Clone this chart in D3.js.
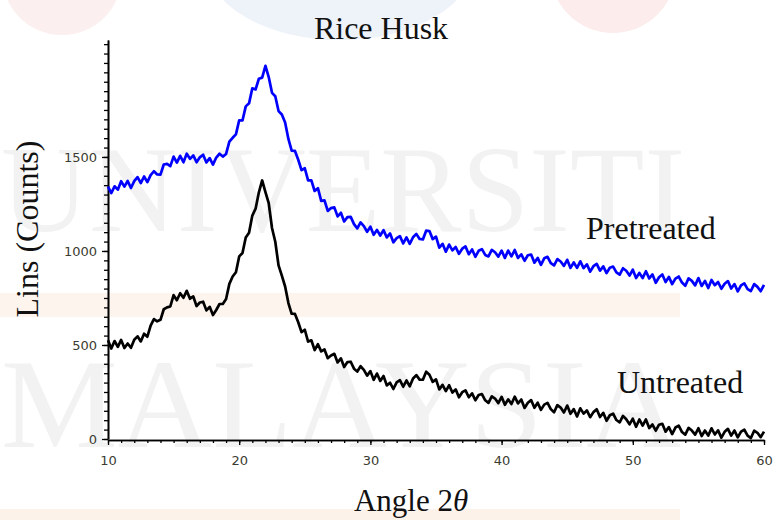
<!DOCTYPE html>
<html><head><meta charset="utf-8">
<script src="https://cdn.jsdelivr.net/npm/d3@7"></script>
<style>html,body{margin:0;padding:0;background:#fff;} svg{display:block;}</style>
</head><body>
<svg id="c" width="776" height="520"></svg>
<script>
// ---------- data ----------
const chartTitle = "Rice Husk";
const yAxisTitle = "Lins (Counts)";
const xAxisTitle = "Angle 2";
const xAxisSymbol = "θ";
const seriesNames = ["Pretreated", "Untreated"];
const xTickLabels = [10, 20, 30, 40, 50, 60];
const yTickLabels = [0, 500, 1000, 1500];
const xMinorStep = 1;
const yMinorStep = 50;

const angles = [
10,10.25,10.5,10.75,11,11.25,11.5,11.75,12,12.25,12.5,12.75,13,13.25,13.5,13.75,14,14.25,14.5,14.75,
15,15.25,15.5,15.75,16,16.25,16.5,16.75,17,17.25,17.5,17.75,18,18.25,18.5,18.75,19,19.25,19.5,19.75,
20,20.25,20.5,20.75,21,21.25,21.5,21.75,22,22.25,22.5,22.75,23,23.25,23.5,23.75,24,24.25,24.5,24.75,
25,25.25,25.5,25.75,26,26.25,26.5,26.75,27,27.25,27.5,27.75,28,28.25,28.5,28.75,29,29.25,29.5,29.75,
30,30.25,30.5,30.75,31,31.25,31.5,31.75,32,32.25,32.5,32.75,33,33.25,33.5,33.75,34,34.25,34.5,34.75,
35,35.25,35.5,35.75,36,36.25,36.5,36.75,37,37.25,37.5,37.75,38,38.25,38.5,38.75,39,39.25,39.5,39.75,
40,40.25,40.5,40.75,41,41.25,41.5,41.75,42,42.25,42.5,42.75,43,43.25,43.5,43.75,44,44.25,44.5,44.75,
45,45.25,45.5,45.75,46,46.25,46.5,46.75,47,47.25,47.5,47.75,48,48.25,48.5,48.75,49,49.25,49.5,49.75,
50,50.25,50.5,50.75,51,51.25,51.5,51.75,52,52.25,52.5,52.75,53,53.25,53.5,53.75,54,54.25,54.5,54.75,
55,55.25,55.5,55.75,56,56.25,56.5,56.75,57,57.25,57.5,57.75,58,58.25,58.5,58.75,59,59.25,59.5,59.75,
60];

const pretreated = [
1342,1308,1344,1326,1371,1342,1372,1335,1371,1393,1361,1396,1366,1403,1424,1407,1406,1460,1463,1451,
1502,1470,1506,1472,1517,1490,1508,1472,1498,1512,1471,1494,1459,1497,1517,1502,1516,1581,1602,1620,
1695,1694,1769,1785,1865,1859,1916,1922,1985,1925,1841,1823,1744,1726,1683,1596,1534,1532,1485,1430,
1440,1375,1375,1319,1334,1266,1269,1213,1228,1232,1184,1203,1157,1180,1181,1143,1120,1152,1132,1102,
1129,1086,1112,1082,1111,1072,1093,1046,1068,1079,1040,1072,1038,1073,1091,1064,1061,1108,1106,1063,
1076,1018,1038,996,1034,1003,1021,985,1012,1024,983,1008,969,1001,1010,979,971,1006,993,970,
1002,963,1002,971,1005,963,982,948,977,981,938,963,926,961,969,935,923,957,944,921,
953,910,939,910,945,909,929,890,919,931,895,918,882,911,917,886,874,908,895,869,
900,856,883,856,892,854,875,831,860,875,835,862,824,853,864,832,815,854,841,817,
856,814,841,803,846,818,835,799,826,840,800,824,785,817,828,797,787,824,809,786,
820];

const untreated = [
525,481,521,490,527,484,508,485,528,546,519,560,544,603,638,626,634,690,700,705,
765,738,775,751,788,746,758,707,726,730,684,703,659,686,718,718,745,825,864,887,
971,989,1072,1097,1188,1225,1312,1375,1313,1254,1122,1049,923,869,811,723,666,665,621,568,
581,518,525,473,504,466,476,430,444,453,407,429,383,409,411,374,359,387,368,337,
361,315,348,309,335,285,299,266,301,313,278,311,280,322,340,316,315,358,342,304,
317,264,288,255,286,247,264,222,249,259,222,243,206,234,239,206,192,227,215,191,
224,182,211,186,225,189,210,165,193,207,166,193,155,183,192,159,142,180,167,141,
178,134,159,120,163,135,152,116,143,158,117,139,97,126,135,101,89,123,105,78,
108,65,104,71,104,58,77,44,76,81,39,63,26,61,71,37,23,59,45,23,
57,16,45,18,57,24,46,7,38,54,18,45,9,39,49,18,5,44,33,10,
39];

const watermarkWords = ["UNIVERSITI", "MALAYSIA"];

// ---------- drawing ----------
const svg = d3.select("#c");
const W = 776, H = 520;
const serif = "'Liberation Serif','Times New Roman',Times,serif";

// background watermark
const bg = svg.append("g");
bg.append("rect").attr("width", W).attr("height", H).attr("fill", "#ffffff");
bg.append("circle").attr("cx", 62).attr("cy", -25).attr("r", 60).attr("fill", "#fcefef");
bg.append("ellipse").attr("cx", 340).attr("cy", -40).attr("rx", 135).attr("ry", 80).attr("fill", "#eef3f9");
bg.append("circle").attr("cx", 613).attr("cy", -30).attr("r", 63).attr("fill", "#fcecec");
bg.append("rect").attr("x", 0).attr("y", 293).attr("width", 680).attr("height", 24).attr("fill", "#fdf4ed");
bg.append("rect").attr("x", 0).attr("y", 509).attr("width", 680).attr("height", 11).attr("fill", "#fdf2ea");
bg.append("text").attr("x", 1).attr("y", 231).text(watermarkWords[0])
  .attr("font-family", serif).attr("font-size", 122).attr("fill", "#f2f2f2")
  .attr("textLength", 684).attr("lengthAdjust", "spacingAndGlyphs");
bg.append("text").attr("x", 1).attr("y", 447).text(watermarkWords[1])
  .attr("font-family", serif).attr("font-size", 126).attr("fill", "#f2f2f2")
  .attr("textLength", 680).attr("lengthAdjust", "spacingAndGlyphs");

// scales
const x = d3.scaleLinear().domain([10, 60]).range([108, 764]);
const y = d3.scaleLinear().domain([0, 2122]).range([439, 40]);

// axes
const minorX = d3.range(xTickLabels[0], xTickLabels[xTickLabels.length - 1] + 0.001, xMinorStep);
const minorY = d3.range(0, y.domain()[1], yMinorStep);

const gx = svg.append("g").attr("transform", "translate(0,440)");
gx.call(d3.axisBottom(x).tickValues(minorX).tickSize(3).tickSizeOuter(0).tickFormat(""));
gx.append("g").call(d3.axisBottom(x).tickValues(xTickLabels).tickSize(5).tickSizeOuter(0).tickPadding(11).tickFormat(d3.format("d")));

const gy = svg.append("g").attr("transform", "translate(108,0)");
gy.call(d3.axisLeft(y).tickValues(minorY).tickSize(4).tickSizeOuter(0).tickFormat(""));
gy.append("g").call(d3.axisLeft(y).tickValues(yTickLabels).tickSize(6).tickSizeOuter(0).tickPadding(5).tickFormat(d3.format("d")));

svg.selectAll(".domain").attr("stroke", "#000").attr("stroke-width", 1.6);
svg.selectAll(".tick line").attr("stroke", "#000").attr("stroke-width", 1.3);
svg.selectAll(".tick text").attr("font-family", "'DejaVu Sans',Verdana,sans-serif")
  .attr("font-size", 13).attr("fill", "#3b3b30");

// series
const line = d3.line().x((d, i) => x(angles[i])).y(d => y(d));
svg.append("path").datum(pretreated).attr("d", line)
  .attr("fill", "none").attr("stroke", "#0000ff").attr("stroke-width", 2.7).attr("stroke-linejoin", "round");
svg.append("path").datum(untreated).attr("d", line)
  .attr("fill", "none").attr("stroke", "#000000").attr("stroke-width", 2.7).attr("stroke-linejoin", "round");

// texts
svg.append("text").attr("x", 381).attr("y", 39).attr("text-anchor", "middle")
  .attr("font-family", serif).attr("font-size", 32).attr("fill", "#111").text(chartTitle);
svg.append("text").attr("x", 586).attr("y", 239)
  .attr("font-family", serif).attr("font-size", 32).attr("fill", "#111").text(seriesNames[0]);
svg.append("text").attr("x", 617).attr("y", 393)
  .attr("font-family", serif).attr("font-size", 32).attr("fill", "#111").text(seriesNames[1]);
svg.append("text").attr("transform", "translate(38,229) rotate(-90)").attr("text-anchor", "middle")
  .attr("font-family", serif).attr("font-size", 32).attr("fill", "#111").text(yAxisTitle);
const xt = svg.append("text").attr("x", 411).attr("y", 511).attr("text-anchor", "middle")
  .attr("font-family", serif).attr("font-size", 31).attr("fill", "#111");
xt.append("tspan").text(xAxisTitle);
xt.append("tspan").attr("font-style", "italic").text(xAxisSymbol);
</script>
</body></html>
